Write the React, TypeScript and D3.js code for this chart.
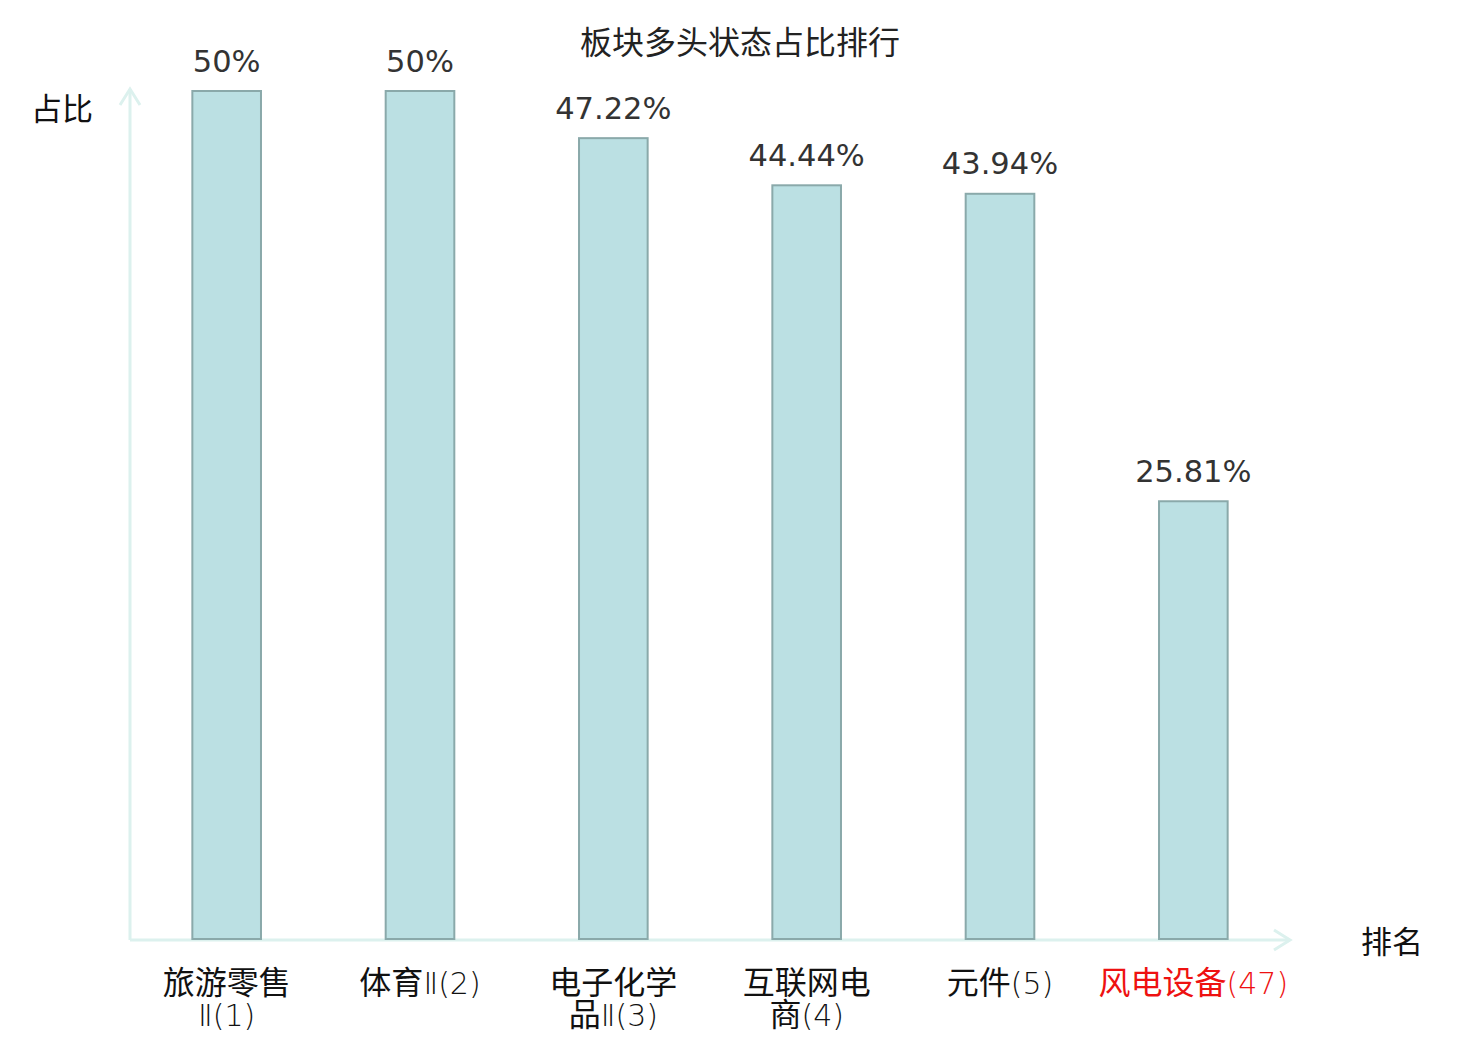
import React from "react";
import * as d3 from "d3";

const TITLE = "板块多头状态占比排行";
const categories = ["旅游零售Ⅱ(1)", "体育Ⅱ(2)", "电子化学品Ⅱ(3)", "互联网电商(4)", "元件(5)", "风电设备(47)"];
const labelLines = [
  ["旅游零售", "Ⅱ(1)"],
  ["体育Ⅱ(2)"],
  ["电子化学", "品Ⅱ(3)"],
  ["互联网电", "商(4)"],
  ["元件(5)"],
  ["风电设备(47)"],
];
const values = [50, 50, 47.22, 44.44, 43.94, 25.81];
const valueLabels = ["50%", "50%", "47.22%", "44.44%", "43.94%", "25.81%"];
const highlighted = [false, false, false, false, false, true];
const Y_NAME = "占比";
const X_NAME = "排名";

const W = 1480;
const H = 1040;
const x0 = 130;
const x1 = 1290;
const yBase = 939;
const yTop = 91;

const CJK = "'Noto Sans CJK SC', 'Noto Sans', sans-serif";
const LAT = "'DejaVu Sans', 'Noto Sans CJK SC', sans-serif";

function runs(s: string) {
  const out: { t: string; cjk: boolean }[] = [];
  for (const ch of s) {
    const cjk = /[\u4e00-\u9fff]/.test(ch);
    if (out.length && out[out.length - 1].cjk === cjk) out[out.length - 1].t += ch;
    else out.push({ t: ch, cjk });
  }
  return out;
}

export default function App() {
  const x = d3.scaleBand<string>().domain(categories).range([x0, x1]).paddingInner(0).paddingOuter(0);
  const y = d3.scaleLinear().domain([0, 50]).range([yBase, yTop]);
  const barW = x.bandwidth() * 0.355;
  const axisColor = "#dcf1ee";

  return (
    <svg width={W} height={H} style={{ position: "absolute", left: 0, top: 0, background: "#fff" }}>
      <text x={740} y={54} textAnchor="middle" fontFamily={CJK} fontSize={32} fill="#222">
        {TITLE}
      </text>
      {/* axes */}
      <line x1={x0} y1={yBase + 1} x2={x0} y2={89} stroke={axisColor} strokeWidth={3} />
      <polyline points={`${x0 - 10},${105} ${x0},${89} ${x0 + 10},${105}`} fill="none" stroke={axisColor} strokeWidth={3} />
      <line x1={x0} y1={yBase + 1} x2={x1} y2={yBase + 1} stroke={axisColor} strokeWidth={3} />
      <polyline points={`${x1 - 16},${930} ${x1},${yBase + 1} ${x1 - 16},${950}`} fill="none" stroke={axisColor} strokeWidth={3} />
      <text x={93} y={120} textAnchor="end" fontFamily={CJK} fontSize={31} fill="#111">
        {Y_NAME}
      </text>
      <text x={1361} y={953} textAnchor="start" fontFamily={CJK} fontSize={31} fill="#111">
        {X_NAME}
      </text>
      {categories.map((c, i) => {
        const cx = (x(c) as number) + x.bandwidth() / 2;
        const top = y(values[i]);
        return (
          <g key={c}>
            <rect x={cx - barW / 2} y={top} width={barW} height={yBase - top} fill="#bbe0e3" stroke="#8aa9aa" strokeWidth={2} />
            <text x={cx} y={top - 19.5} textAnchor="middle" fontFamily={LAT} fontSize={30.5} fill="#333">
              {valueLabels[i]}
            </text>
            {labelLines[i].map((ln, j) => (
              <text key={j} x={cx} y={994 + j * 32} textAnchor="middle" fontSize={32} fill={highlighted[i] ? "#ee1111" : "#111"}>
                {runs(ln).map((r, k) =>
                  r.cjk ? (
                    <tspan key={k} fontFamily={CJK}>{r.t}</tspan>
                  ) : (
                    <tspan key={k} fontFamily="'DejaVu Sans', sans-serif" fontWeight={200} fontSize={30}>{r.t}</tspan>
                  )
                )}
              </text>
            ))}
          </g>
        );
      })}
    </svg>
  );
}
